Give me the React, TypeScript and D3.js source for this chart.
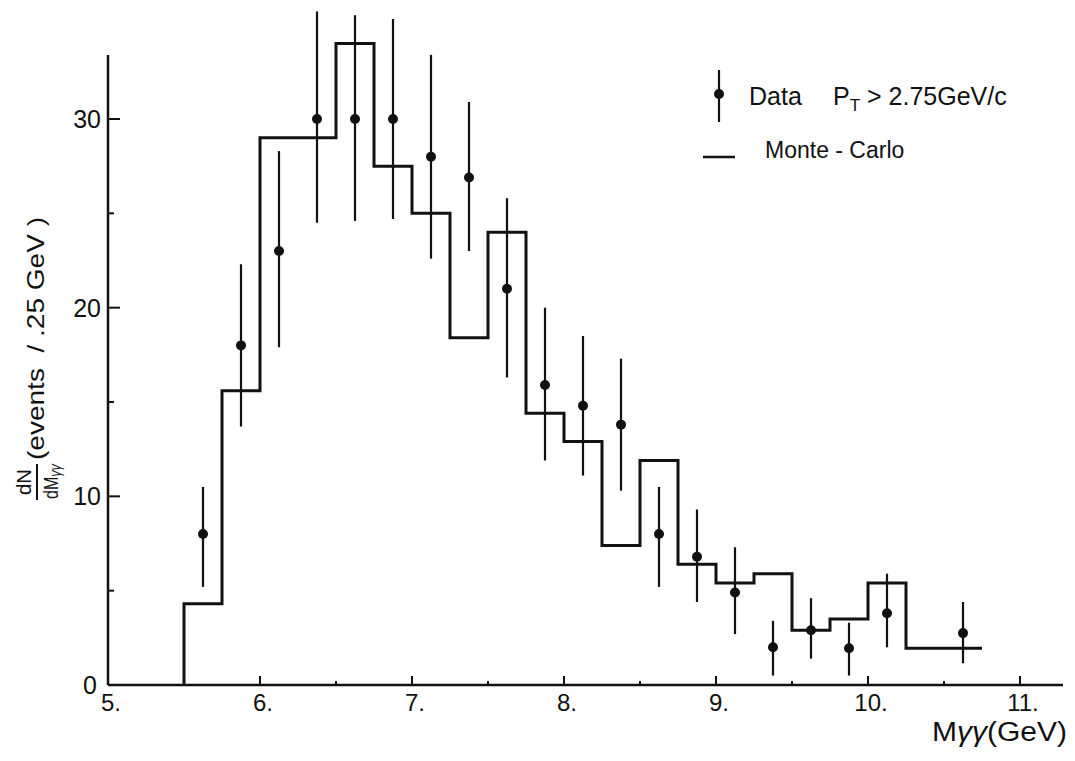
import * as d3 from 'd3';

// Monte-Carlo histogram, 0.25 GeV bins starting at 5.5 GeV
const binEdges = [5.5, 5.75, 6.0, 6.25, 6.5, 6.75, 7.0, 7.25, 7.5, 7.75, 8.0, 8.25, 8.5, 8.75, 9.0, 9.25, 9.5, 9.75, 10.0, 10.25, 10.5];
const mcValues = [4.3, 15.6, 29, 29, 34, 27.5, 25, 18.4, 24, 14.4, 12.9, 7.4, 11.9, 6.4, 5.4, 5.9, 2.9, 3.5, 5.4, 1.95, 1.95];
const histEnd = 10.75;

// data points with error bars
const dataMass = [5.625, 5.875, 6.125, 6.375, 6.625, 6.875, 7.125, 7.375, 7.625, 7.875, 8.125, 8.375, 8.625, 8.875, 9.125, 9.375, 9.625, 9.875, 10.125, 10.625];
const dataValue = [8, 18, 23, 30, 30, 30, 28, 26.9, 21, 15.9, 14.8, 13.8, 8, 6.8, 4.9, 2, 2.9, 1.95, 3.8, 2.75];
const dataLow = [5.2, 13.7, 17.9, 24.5, 24.6, 24.7, 22.6, 23.0, 16.3, 11.9, 11.1, 10.3, 5.2, 4.4, 2.7, 0.5, 1.4, 0.5, 2.0, 1.15];
const dataHigh = [10.5, 22.3, 28.3, 35.7, 35.5, 35.3, 33.4, 30.9, 25.8, 20, 18.5, 17.3, 10.5, 9.3, 7.3, 3.4, 4.6, 3.3, 5.9, 4.4];

const xMajor = [5, 6, 7, 8, 9, 10, 11];
const xMinor = [5.5, 6.5, 7.5, 8.5, 9.5, 10.5];
const yMajor = [0, 10, 20, 30];
const yMinor = [5, 15, 25];

const W = 1075;
const H = 761;
const font = 'Liberation Sans, Arial, sans-serif';
const ink = '#111';

export default function App() {
  const x = d3.scaleLinear().domain([5, 11]).range([108, 1020]);
  const y = d3.scaleLinear().domain([0, 30]).range([685, 119]);
  const axisLeft = x(5);
  const axisRight = 1063;
  const axisTop = 55;

  const stepPts: [number, number][] = [[binEdges[0], 0]];
  binEdges.forEach((e, i) => stepPts.push([e, mcValues[i]]));
  stepPts.push([histEnd, mcValues[mcValues.length - 1]]);
  const step = d3.line<[number, number]>()
    .x(d => x(d[0]))
    .y(d => y(d[1]))
    .curve(d3.curveStepAfter);

  return (
    <svg width={W} height={H} style={{ position: 'absolute', left: 0, top: 0, background: '#fff' }}
      fontFamily={font} fill={ink}>
      {/* axes */}
      <line x1={axisLeft} x2={axisRight} y1={y(0)} y2={y(0)} stroke={ink} strokeWidth={2.5} />
      <line x1={axisLeft} x2={axisLeft} y1={y(0)} y2={axisTop} stroke={ink} strokeWidth={2.5} />
      {xMajor.map(v => (
        <g key={'xm' + v}>
          <line x1={x(v)} x2={x(v)} y1={y(0)} y2={y(0) - 9} stroke={ink} strokeWidth={2} />
          <text x={x(v) + 3} y={711} fontSize={24} textAnchor="middle">{v + '.'}</text>
        </g>
      ))}
      {xMinor.map(v => (
        <line key={'xn' + v} x1={x(v)} x2={x(v)} y1={y(0)} y2={y(0) - 4} stroke={ink} strokeWidth={2} />
      ))}
      {yMajor.map(v => (
        <g key={'ym' + v}>
          <line x1={axisLeft} x2={axisLeft + 12} y1={y(v)} y2={y(v)} stroke={ink} strokeWidth={2} />
          <text x={v === 0 ? 97 : 101} y={y(v) + 9} fontSize={25} textAnchor="end">{v}</text>
        </g>
      ))}
      {yMinor.map(v => (
        <line key={'yn' + v} x1={axisLeft} x2={axisLeft + 6} y1={y(v)} y2={y(v)} stroke={ink} strokeWidth={2} />
      ))}

      {/* Monte-Carlo histogram */}
      <path d={step(stepPts) || ''} fill="none" stroke={ink} strokeWidth={3} />

      {/* data with error bars */}
      {dataMass.map((m, i) => (
        <g key={'d' + i}>
          <line x1={x(m)} x2={x(m)} y1={y(dataLow[i])} y2={y(dataHigh[i])} stroke={ink} strokeWidth={2.2} />
          <circle cx={x(m)} cy={y(dataValue[i])} r={5} fill={ink} />
        </g>
      ))}

      {/* legend */}
      <line x1={719} x2={719} y1={70} y2={122} stroke={ink} strokeWidth={2.2} />
      <circle cx={719} cy={94} r={5} fill={ink} />
      <text x={749} y={105} fontSize={25}>Data</text>
      <text x={833} y={105} fontSize={25}>
        P<tspan fontSize={17} dy={6}>T</tspan><tspan dy={-6}> {'>'} 2.75GeV/c</tspan>
      </text>
      <line x1={703} x2={735} y1={157} y2={157} stroke={ink} strokeWidth={2.5} />
      <text x={765} y={158} fontSize={23}>Monte - Carlo</text>

      {/* x title */}
      <text x={932} y={741} fontSize={27} textLength={135} lengthAdjust="spacingAndGlyphs">
        M<tspan fontStyle="italic">γγ</tspan>(GeV)
      </text>

      {/* y title */}
      <g transform="translate(37, 500) rotate(-90)">
        <text x={18} y={-6} fontSize={21} textAnchor="middle" textLength={26} lengthAdjust="spacingAndGlyphs">dN</text>
        <line x1={0} x2={36} y1={0} y2={0} stroke={ink} strokeWidth={2} />
        <text x={1} y={21} fontSize={20} textLength={35} lengthAdjust="spacingAndGlyphs">
          dM<tspan fontSize={16} dy={3} fontStyle="italic">γγ</tspan>
        </text>
        <text x={40} y={7} fontSize={24} textLength={243} lengthAdjust="spacingAndGlyphs" xmlSpace="preserve">(events  / .25 GeV )</text>
      </g>
    </svg>
  );
}
